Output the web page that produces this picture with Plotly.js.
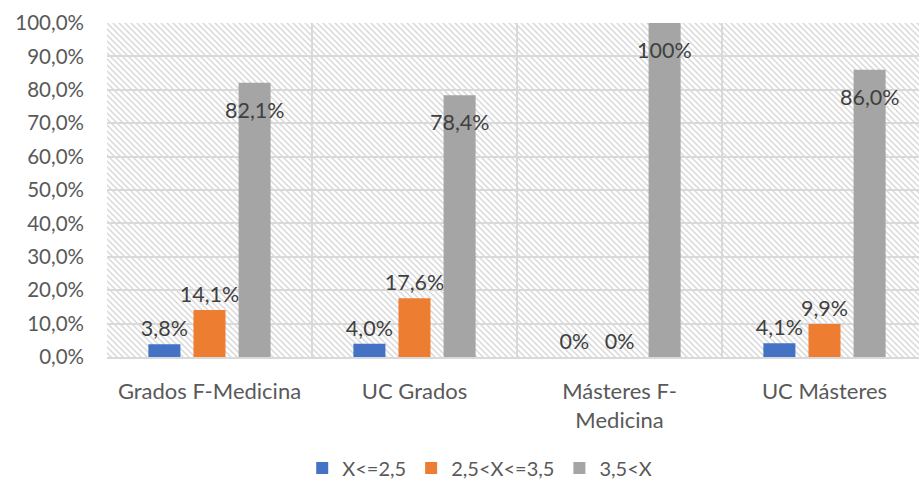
<!DOCTYPE html>
<html><head><meta charset="utf-8">
<script src="https://cdn.plot.ly/plotly-3.0.1.min.js"></script>
<style>html,body{margin:0;padding:0;background:#fff}#c{width:919px;height:483px}</style>
</head><body><div id="c"></div>
<script>
const categories = ["Grados F-Medicina", "UC Grados", "Másteres F-<br>Medicina", "UC Másteres"];
const seriesNames = ["X<=2,5", "2,5<X<=3,5", "3,5<X"];
const lowValues = [3.8, 4.0, 0, 4.1];
const midValues = [14.1, 17.6, 0, 9.9];
const highValues = [82.1, 78.4, 100, 86.0];
const lowLabels = ["3,8%", "4,0%", "0%", "4,1%"];
const midLabels = ["14,1%", "17,6%", "0%", "9,9%"];
const highLabels = ["82,1%", "78,4%", "100%", "86,0%"];
const yTickVals = [0,10,20,30,40,50,60,70,80,90,100];
const yTickText = ["0,0%","10,0%","20,0%","30,0%","40,0%","50,0%","60,0%","70,0%","80,0%","90,0%","100,0%"];

const colors = ["#4472C4", "#ED7D31", "#A5A5A5"];
const FONT = "Lato, 'Open Sans', sans-serif";
const axisColor = "#595959";
const labelColor = "#404040";

const W = 812, H = 334;
const svg = `<svg xmlns="http://www.w3.org/2000/svg" width="${W}" height="${H}" viewBox="0 0 ${W} ${H}">` +
  `<defs><pattern id="p" width="6" height="6" patternUnits="userSpaceOnUse">` +
  `<rect width="6" height="6" fill="#ffffff"/>` +
  `<path d="M-1,-1 L7,7 M-1,5 L1,7 M5,-1 L7,1" stroke="#d9d9d9" stroke-width="1.5"/>` +
  `</pattern></defs><rect width="${W}" height="${H}" fill="url(#p)"/></svg>`;
const bgUri = "data:image/svg+xml;base64," + btoa(svg);

function barTrace(name, vals, labels, color, withText) {
  const t = {
    type: "bar", name: name, x: categories, y: vals,
    marker: {color: color, line: {width: 0}},
    hoverinfo: "skip"
  };
  if (withText) {
    t.text = labels;
    t.textposition = "outside";
    t.constraintext = "none";
    t.cliponaxis = false;
    t.textfont = {family: FONT, size: 21.5, color: labelColor};
  } else {
    t.textposition = "none";
  }
  return t;
}

const data = [
  barTrace(seriesNames[0], lowValues, lowLabels, colors[0], true),
  barTrace(seriesNames[1], midValues, midLabels, colors[1], true),
  barTrace(seriesNames[2], highValues, highLabels, colors[2], false)
];

const annotations = categories.map((c, i) => ({
  x: c, y: highValues[i], xref: "x", yref: "y",
  text: highLabels[i], showarrow: false,
  xshift: 45, yshift: -27,
  font: {family: FONT, size: 21.5, color: labelColor}
}));

const layout = {
  width: 919, height: 483,
  margin: {l: 107, r: 0, t: 23, b: 126, pad: 0},
  paper_bgcolor: "#ffffff",
  plot_bgcolor: "#ffffff",
  font: {family: FONT, size: 20, color: axisColor},
  barmode: "group",
  bargap: 0.34,
  bargroupgap: 0.29,
  showlegend: true,
  legend: {
    orientation: "h", xref: "container", yref: "container",
    x: 0.522, xanchor: "center", y: 0.031, yanchor: "middle",
    font: {family: FONT, size: 20, color: axisColor},
    itemwidth: 30,
    itemclick: false, itemdoubleclick: false,
    traceorder: "normal"
  },
  xaxis: {
    type: "category",
    range: [-0.5, 3.461],
    showgrid: true, tickson: "boundaries",
    gridcolor: "#d9d9d9", gridwidth: 2,
    ticks: "", ticklen: 0,
    showline: true, linecolor: "#d9d9d9", linewidth: 2,
    tickfont: {family: FONT, size: 22, color: axisColor},
    ticklabelstandoff: 14,
    fixedrange: true
  },
  yaxis: {
    range: [0, 100],
    tickvals: yTickVals, ticktext: yTickText,
    showgrid: true, gridcolor: "#d9d9d9", gridwidth: 2,
    zeroline: false, showline: false, ticks: "",
    tickfont: {family: FONT, size: 20.5, color: axisColor},
    ticklabelstandoff: 22,
    fixedrange: true
  },
  images: [{
    source: bgUri, xref: "paper", yref: "paper",
    x: 0, y: 1, sizex: 1, sizey: 1, xanchor: "left", yanchor: "top",
    sizing: "stretch", layer: "below"
  }],
  annotations: annotations
};

Plotly.newPlot("c", data, layout, {displayModeBar: false, staticPlot: true});
</script></body></html>
